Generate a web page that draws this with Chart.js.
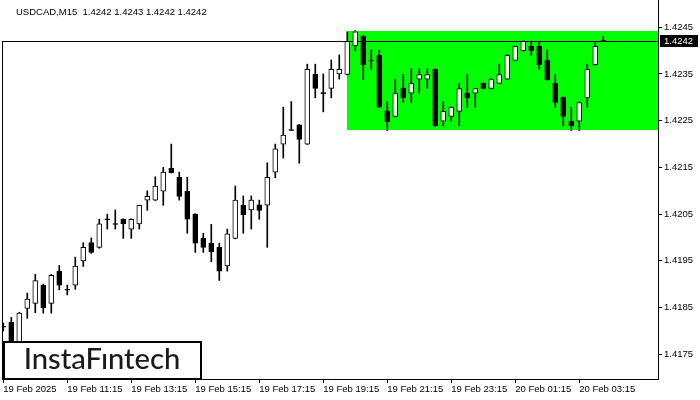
<!DOCTYPE html>
<html>
<head>
<meta charset="utf-8">
<script src="https://cdn.jsdelivr.net/npm/chart.js"></script>
<style>
  body { margin: 0; background: #fff; }
</style>
</head>
<body>
<canvas id="myChart" width="700" height="400"></canvas>
<script>
const ctx = document.getElementById("myChart");

// USDCAD M15, 19 Feb 09:15 .. 20 Feb 04:00 (one value per candle)
const opens = [1.41810,1.41819,1.41772,1.41848,1.41859,1.41898,1.41859,1.41928,1.41889,1.41898,
  1.41950,1.41989,1.41979,1.42040,1.42030,1.42039,1.42018,1.42029,1.42080,1.42080,
  1.42099,1.42148,1.42129,1.42099,1.42050,1.41998,1.41988,1.41979,1.41939,1.41998,
  1.42069,1.42059,1.42070,1.42069,1.42140,1.42200,1.42231,1.42241,1.42200,1.42350,
  1.42310,1.42319,1.42350,1.42349,1.42410,1.42431,1.42380,1.42390,1.42271,1.42259,
  1.42320,1.42309,1.42339,1.42339,1.42360,1.42249,1.42259,1.42270,1.42309,1.42309,
  1.42330,1.42319,1.42330,1.42339,1.42379,1.42400,1.42409,1.42409,1.42379,1.42330,
  1.42300,1.42249,1.42249,1.42299,1.42370,1.42422];
const highs = [1.41817,1.41829,1.41840,1.41881,1.41921,1.41900,1.41921,1.41940,1.41898,1.41958,
  1.41989,1.41999,1.42039,1.42050,1.42059,1.42040,1.42040,1.42069,1.42100,1.42130,
  1.42150,1.42200,1.42140,1.42129,1.42051,1.42009,1.42028,1.41988,1.42018,1.42110,
  1.42089,1.42089,1.42080,1.42160,1.42200,1.42279,1.42291,1.42242,1.42371,1.42371,
  1.42350,1.42380,1.42391,1.42440,1.42443,1.42432,1.42401,1.42401,1.42290,1.42339,
  1.42349,1.42361,1.42361,1.42361,1.42361,1.42290,1.42281,1.42330,1.42349,1.42320,
  1.42331,1.42340,1.42371,1.42391,1.42410,1.42421,1.42420,1.42420,1.42401,1.42349,
  1.42301,1.42279,1.42290,1.42371,1.42420,1.42430];
const lows = [1.41800,1.41759,1.41765,1.41827,1.41839,1.41838,1.41838,1.41888,1.41877,1.41889,
  1.41938,1.41966,1.41977,1.42018,1.42018,1.41998,1.41998,1.42018,1.42058,1.42079,
  1.42069,1.42138,1.42080,1.42009,1.41968,1.41968,1.41948,1.41908,1.41928,1.41997,
  1.42009,1.42018,1.42039,1.41979,1.42128,1.42170,1.42229,1.42159,1.42199,1.42299,
  1.42269,1.42299,1.42339,1.42348,1.42400,1.42338,1.42360,1.42278,1.42229,1.42258,
  1.42289,1.42289,1.42309,1.42319,1.42238,1.42239,1.42249,1.42239,1.42279,1.42279,
  1.42318,1.42318,1.42329,1.42338,1.42378,1.42399,1.42390,1.42360,1.42337,1.42279,
  1.42239,1.42229,1.42229,1.42279,1.42369,1.42420];
const closes = [1.41808,1.41770,1.41838,1.41868,1.41908,1.41849,1.41919,1.41898,1.41887,1.41939,
  1.41979,1.41968,1.42029,1.42038,1.42028,1.42029,1.42039,1.42069,1.42088,1.42110,
  1.42140,1.42139,1.42088,1.42039,1.41988,1.41979,1.41969,1.41928,1.42008,1.42080,
  1.42049,1.42080,1.42058,1.42129,1.42190,1.42219,1.42229,1.42210,1.42360,1.42319,
  1.42308,1.42360,1.42360,1.42420,1.42440,1.42370,1.42378,1.42279,1.42248,1.42309,
  1.42299,1.42330,1.42349,1.42349,1.42239,1.42270,1.42279,1.42319,1.42299,1.42319,
  1.42319,1.42339,1.42349,1.42390,1.42409,1.42420,1.42400,1.42370,1.42338,1.42289,
  1.42259,1.42239,1.42289,1.42360,1.42409,1.42420];

// one time label every 8 candles (2 hours)
const timeLabels = ['19 Feb 2025','19 Feb 11:15','19 Feb 13:15','19 Feb 15:15','19 Feb 17:15',
  '19 Feb 19:15','19 Feb 21:15','19 Feb 23:15','20 Feb 01:15','20 Feb 03:15'];
const priceTicks = [1.4175,1.4185,1.4195,1.4205,1.4215,1.4225,1.4235,1.4245];

const lastPrice = 1.4242;
// green rectangle pattern
const zoneStart = 43;
const zoneHigh = 1.42441;
const zoneLow = 1.42231;
const titleText = 'USDCAD,M15  1.4242 1.4243 1.4242 1.4242';
const logoText = 'InstaF\u0131ntech';

const font = { family: 'Liberation Sans', size: 9.5 };

var bodies = opens.map((o, i) => ({ x: i, y: [o, closes[i]] }));
var wicks = opens.map((o, i) => ({ x: i, y: [lows[i], highs[i]] }));
var bodyColors = opens.map((o, i) => closes[i] < o ? '#000000' : '#ffffff');

// no extra label padding, so the plot fills the frame
function noPad(s) {
  s.paddingTop = 0; s.paddingBottom = 0; s.paddingLeft = 0; s.paddingRight = 0;
}

const overlay = {
  id: 'overlay',
  beforeDatasetsDraw(chart) {
    const c = chart.ctx, a = chart.chartArea;
    const xs = chart.scales.x, ys = chart.scales.y;
    c.save();
    // pattern zone
    c.fillStyle = '#00ff00';
    var zx = Math.round(xs.getPixelForValue(zoneStart));
    var zt = Math.round(ys.getPixelForValue(zoneHigh));
    var zb = Math.round(ys.getPixelForValue(zoneLow));
    c.fillRect(zx, zt, a.right - zx, zb - zt);
    // bid line
    var py = Math.round(ys.getPixelForValue(lastPrice)) + 0.5;
    c.strokeStyle = '#000';
    c.lineWidth = 1;
    c.beginPath();
    c.moveTo(a.left, py);
    c.lineTo(a.right, py);
    c.stroke();
    c.restore();
  },
  afterDraw(chart) {
    const c = chart.ctx, a = chart.chartArea;
    const ys = chart.scales.y;
    var py = Math.round(ys.getPixelForValue(lastPrice)) + 0.5;
    c.save();
    // left frame line
    c.strokeStyle = '#000';
    c.lineWidth = 1;
    c.beginPath();
    c.moveTo(a.left + 0.5, py);
    c.lineTo(a.left + 0.5, a.bottom);
    c.stroke();

    // title
    c.fillStyle = '#000';
    c.font = '9.5px "Liberation Sans"';
    c.textBaseline = 'alphabetic';
    c.textAlign = 'left';
    c.fillText(titleText, 16, 15);

    // current price label
    c.fillStyle = '#000';
    c.fillRect(a.right + 2, py - 6.5, 38, 12);
    c.fillStyle = '#fff';
    c.font = '9.5px "Liberation Sans"';
    c.textBaseline = 'middle';
    c.fillText(lastPrice.toFixed(4), a.right + 6, py);

    // logo box
    c.fillStyle = '#fff';
    c.fillRect(3, 341, 198, 38);
    c.strokeStyle = '#000';
    c.lineWidth = 2;
    c.strokeRect(4, 342, 197, 37);
    c.fillStyle = '#1a1a1a';
    var size = 26;
    c.font = '500 ' + size + 'px Lato';
    var w = c.measureText(logoText).width;
    size = size * 157 / w;
    c.font = '500 ' + size.toFixed(1) + 'px Lato';
    c.textAlign = 'center';
    c.textBaseline = 'alphabetic';
    c.fillText(logoText, 102, 369);
    c.restore();
  }
};

new Chart(ctx, {
  type: 'bar',
  data: {
    datasets: [{
      label: 'body',
      data: bodies,
      backgroundColor: bodyColors,
      borderColor: '#000',
      borderWidth: 1,
      borderSkipped: false,
      barThickness: 5,
      grouped: false
    }, {
      label: 'wick',
      data: wicks,
      backgroundColor: '#000',
      borderWidth: 0,
      barThickness: 1,
      grouped: false
    }]
  },
  options: {
    responsive: false,
    animation: false,
    devicePixelRatio: 1,
    layout: { padding: { left: 2, top: 0, right: 0, bottom: 0 } },
    plugins: { legend: { display: false }, tooltip: { enabled: false } },
    scales: {
      x: {
        type: 'linear',
        offset: false,
        min: -0.16,
        max: 81.84,
        afterBuildTicks: (s) => { s.ticks = timeLabels.map((t, i) => ({ value: i * 8 })); },
        afterFit: (s) => { s.height = 21; noPad(s); },
        ticks: {
          align: 'start',
          maxRotation: 0,
          autoSkip: false,
          padding: 1,
          color: '#000',
          font: font,
          callback: (v, i) => timeLabels[i]
        },
        grid: { offset: false, drawOnChartArea: false, tickLength: 4, color: '#000' },
        border: { color: '#000', width: 1 }
      },
      y: {
        position: 'right',
        min: 1.416971,
        max: 1.425084,
        afterBuildTicks: (s) => { s.ticks = priceTicks.map(v => ({ value: v })); },
        afterFit: (s) => { s.width = 42; noPad(s); },
        ticks: {
          padding: 2,
          color: '#000',
          font: font,
          callback: (v) => v.toFixed(4)
        },
        grid: { drawOnChartArea: false, tickLength: 4, color: '#000' },
        border: { color: '#000', width: 1 }
      }
    }
  },
  plugins: [overlay]
});
</script>
</body>
</html>
